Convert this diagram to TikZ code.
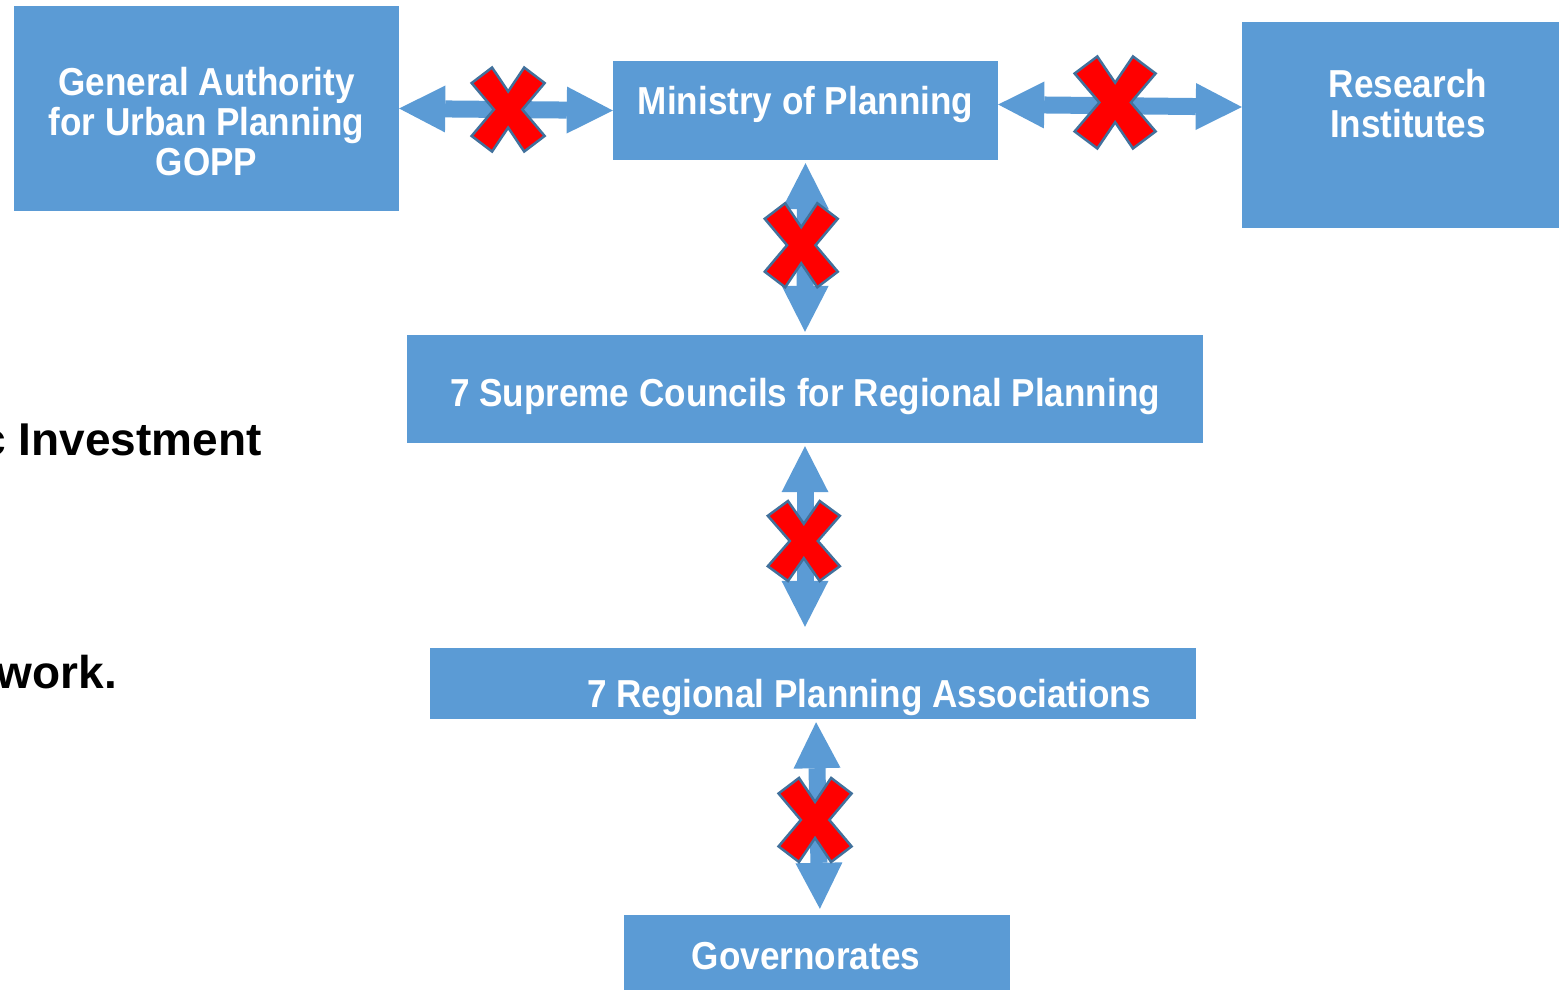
\documentclass[tikz,border=0pt]{standalone}
\usepackage{fontspec}
\setmainfont{Liberation Sans}
\newfontfamily\boxfont{Liberation Sans}[FakeStretch=0.9]
\usetikzlibrary{arrows.meta,calc}
\definecolor{officeblue}{HTML}{5B9BD5}
\definecolor{xedge}{HTML}{41719C}
\begin{document}
\begin{tikzpicture}[x=1pt, y=-1pt,
        box/.style={fill=officeblue, inner sep=0pt},
        boxtext/.style={text=white, font=\boxfont\bfseries\fontsize{39}{40}\selectfont, align=center, inner sep=0pt},
        bigtext/.style={font=\bfseries\fontsize{46}{50}\selectfont, inner sep=0pt},
        link/.style={officeblue, line width=17pt,
            {Triangle[length=46pt, width=47pt, line width=0pt]}-{Triangle[length=46pt, width=47pt, line width=0pt]}},
        nox/.pic={\filldraw[fill=red, draw=xedge, line width=2.5pt, line join=miter]
            (-0.44,-1) -- (0,-0.43) -- (0.44,-1) -- (1,-0.63) -- (0.39,0) -- (1,0.63) -- (0.44,1)
            -- (0,0.43) -- (-0.44,1) -- (-1,0.63) -- (-0.39,0) -- (-1,-0.63) -- cycle;}]
    \useasboundingbox (0,0) rectangle (1559,989);
    \clip (0,0) rectangle (1559,989);
    \node[box, minimum width=385, minimum height=205] (gopp) at (206.5,108.5) {};
    \node[box, minimum width=385, minimum height=99] (min) at (805.5,110.5) {};
    \node[box, minimum width=385, minimum height=206] (res) at (1434.5,125) {};
    \node[box, minimum width=796, minimum height=108] (sup) at (805,389) {};
    \node[box, minimum width=766, minimum height=71] (assoc) at (813,683.5) {};
    \node[box, minimum width=386, minimum height=100] (gov) at (817,965) {};
    \node[boxtext] (gopptext) at ($(gopp.center)+(0,13.5)$) {General Authority\\for Urban Planning\\GOPP};
    \node[boxtext] (restext) at ($(res.center)+(-26.5,-21)$) {Research\\Institutes};
    \node[boxtext, anchor=base] (mintext) at ($(min.center)+(0,3.5)$) {Ministry of Planning};
    \node[boxtext, anchor=base] (suptext) at ($(sup.center)+(0,17)$) {7 Supreme Councils for Regional Planning};
    \node[boxtext, anchor=base] (assoctext) at ($(assoc.center)+(56,23.5)$) {7 Regional Planning Associations};
    \node[boxtext, anchor=base] (govtext) at ($(gov.center)+(-11,4)$) {Governorates};
    \node[bigtext, anchor=base east] (invest) at (262,455) {c Investment};
    \node[bigtext, anchor=base east] (work) at (117,688) {work.};
    % two-way links, all crossed out
    \draw[link] (gopp.east) -- (min.west);
    \draw[link] ($(min.east)+(0,-6)$) -- ($(res.west)+(0,-18)$);
    \draw[link, shorten <=3pt, shorten >=3pt] (min.south) -- (sup.north);
    \draw[link, shorten <=3pt, shorten >=21pt] (sup.south) -- (sup.south |- assoc.north);
    \draw[link, shorten <=3pt, shorten >=6pt] ($(assoc.south)+(3,0)$) -- ($(gov.north)+(3,0)$);
    \pic[xscale=36.5, yscale=42] at ($(gopp.east)!0.51!(min.west)$) {nox};
    \pic[xscale=40.5, yscale=46] at ($(min.east)!0.48!(res.west)+(0,-15)$) {nox};
    \pic[xscale=36.5, yscale=42] at ($(min.south)!0.487!(sup.north)+(-4,0)$) {nox};
    \pic[xscale=36, yscale=40] at ($(sup.south)!0.478!(assoc.north)+(-5,0)$) {nox};
    \pic[xscale=36.5, yscale=42] at ($(assoc.south)!0.515!(gov.north)$) {nox};
\end{tikzpicture}
\end{document}
